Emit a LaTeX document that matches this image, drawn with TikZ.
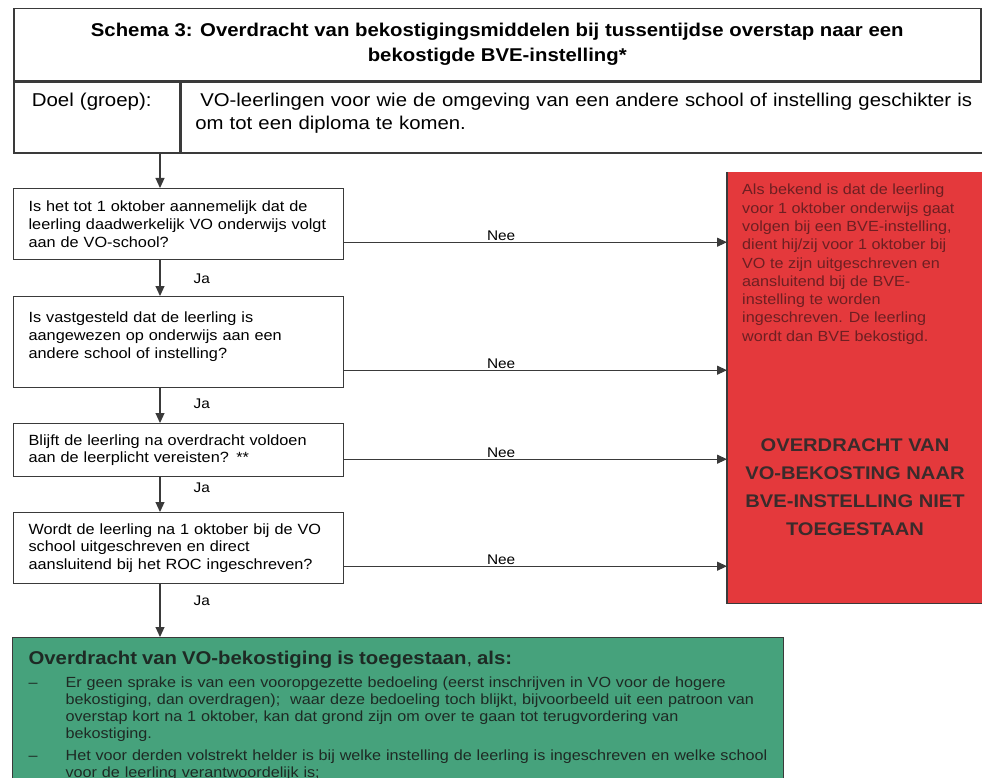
\documentclass[tikz,border=0pt]{standalone}
\usepackage{fontspec}
\setmainfont{Liberation Sans}[FakeStretch=1.1]
\usetikzlibrary{arrows.meta, positioning, calc}
\definecolor{lijn}{HTML}{3A3A3A}
\definecolor{roodvlak}{HTML}{E4393C}
\definecolor{roodtekst}{HTML}{6E1F22}
\definecolor{verbodtekst}{HTML}{3A2B2B}
\definecolor{groenvlak}{HTML}{46A27C}
\definecolor{groentekst}{HTML}{1E2A24}

\begin{document}
\begin{tikzpicture}[x=1pt, y=-1pt,
  kader/.style={draw=lijn, line width=1.5pt, anchor=north west, inner sep=0pt},
  vraag/.style={draw=lijn, line width=1.2pt, anchor=north west, minimum width=330pt,
    text width=300pt, inner xsep=15pt, inner ysep=0pt, align=left,
    font=\fontsize{14.8}{17.8}\selectfont},
  pijl/.style={draw=lijn, line width=1.1pt, -{Triangle[length=10pt, width=9pt]}},
  ja/.style={anchor=west, xshift=31pt, inner sep=2pt, font=\fontsize{14}{16}\selectfont},
  nee/.style={above, inner sep=1.5pt, font=\fontsize{14}{16}\selectfont}]
\useasboundingbox (0,0) rectangle (982,778);
\clip (0,0) rectangle (982,778);

% kop
\node[kader, minimum width=967pt, minimum height=72pt, align=center,
  font=\bfseries\fontsize{18.5}{25}\selectfont] (titel) at (13,8)
  {Schema 3: Overdracht van bekostigingsmiddelen bij tussentijdse overstap naar een\\
   bekostigde BVE-instelling*};
\node[kader, minimum width=166pt, minimum height=71pt, text width=130pt, inner xsep=18pt,
  align=left, text depth=35pt, font=\fontsize{18.6}{23}\selectfont] (doel) at (titel.south west)
  {Doel (groep):};
\node[kader, minimum width=801pt, minimum height=71pt, text width=797pt, inner xsep=2pt,
  align=left, text depth=35pt, font=\fontsize{18.5}{23}\selectfont] (doeltekst) at (doel.north east)
  {\hspace*{17pt}\mbox{VO-leerlingen voor wie de omgeving van een andere school of instelling geschikter is}\\
   \hspace*{12pt}om tot een diploma te komen.};

% vragen
\node[vraag, minimum height=71pt] (v1) at (13,188)
  {Is het tot 1 oktober aannemelijk dat de\\ leerling daadwerkelijk VO onderwijs volgt\\ aan de VO-school?};
\node[vraag, minimum height=91pt, text depth=49pt] (v2) at (13,296)
  {Is vastgesteld dat de leerling is\\ aangewezen op onderwijs aan een\\ andere school of instelling?};
\node[vraag, minimum height=53pt] (v3) at (13,423)
  {Blijft de leerling na overdracht voldoen\\ aan de leerplicht vereisten? **};
\node[vraag, minimum height=71pt] (v4) at (13,512)
  {Wordt de leerling na 1 oktober bij de VO\\ school uitgeschreven en direct\\ aansluitend bij het ROC ingeschreven?};

% rood vlak
\node[fill=roodvlak, anchor=north west, minimum width=262pt, minimum height=431pt, inner sep=0pt] (rood) at (727,172) {};
\draw[lijn, line width=1.4pt] (rood.north west) -- (rood.south west) -- (rood.south east);
\node[anchor=north west, inner sep=0pt, align=left, text=roodtekst,
  font=\fontsize{14.7}{18.3}\selectfont] (uitleg) at ([xshift=15pt, yshift=-12pt]rood.north west)
  {Als bekend is dat de leerling\\ voor 1 oktober onderwijs gaat\\ volgen bij een BVE-instelling,\\
   dient hij/zij voor 1 oktober bij\\ VO te zijn uitgeschreven en\\ aansluitend bij de BVE-\\
   instelling te worden\\ ingeschreven. De leerling\\ wordt dan BVE bekostigd.};
\node[align=center, text=verbodtekst, font=\bfseries\fontsize{18.3}{28}\selectfont] (verbod) at (855,487)
  {OVERDRACHT VAN\\ VO-BEKOSTING NAAR\\ BVE-INSTELLING NIET\\ TOEGESTAAN};

% groen vlak
\node[anchor=north west, fill=groenvlak, draw=lijn, line width=1.2pt, minimum width=771pt,
  text width=739pt, inner xsep=16pt, inner ysep=13pt, align=left, text=groentekst,
  font=\fontsize{14.7}{17}\selectfont] (groen) at (12,637) {%
  {\bfseries\fontsize{18.5}{18.5}\selectfont Overdracht van VO-bekostiging is toegestaan}{\fontsize{18.5}{18.5}\selectfont, \bfseries als:}\par
  \vspace{6.7pt}
  \makebox[37pt][l]{--}\parbox[t]{702pt}{Er geen sprake is van een vooropgezette bedoeling (eerst inschrijven in VO voor de hogere\\
    bekostiging, dan overdragen); \ waar deze bedoeling toch blijkt, bijvoorbeeld uit een patroon van\\
    overstap kort na 1 oktober, kan dat grond zijn om over te gaan tot terugvordering van\\
    bekostiging.}\par
  \vspace{7pt}
  \makebox[37pt][l]{--}\parbox[t]{702pt}{Het voor derden volstrekt helder is bij welke instelling de leerling is ingeschreven en welke school\\
    voor de leerling verantwoordelijk is;}\par};

% pijlen
\coordinate (as) at (160,0);
\draw[pijl] (doel.south -| as) -- (v1.north -| as);
\draw[pijl] (v1.south -| as) -- (v2.north -| as) node[ja, pos=0.51] {Ja};
\draw[pijl] (v2.south -| as) -- (v3.north -| as) node[ja, pos=0.44] {Ja};
\draw[pijl] (v3.south -| as) -- (v4.north -| as) node[ja, pos=0.31] {Ja};
\draw[pijl] (v4.south -| as) -- (groen.north -| as) node[ja, pos=0.31] {Ja};
\foreach \v in {v1,v2,v3,v4} {
  \coordinate (\v nee) at ([yshift=18pt]\v.south east);
  \draw[pijl] (\v nee) -- (\v nee -| rood.west) node[nee, pos=0.41] {Nee};
}
\end{tikzpicture}
\end{document}
